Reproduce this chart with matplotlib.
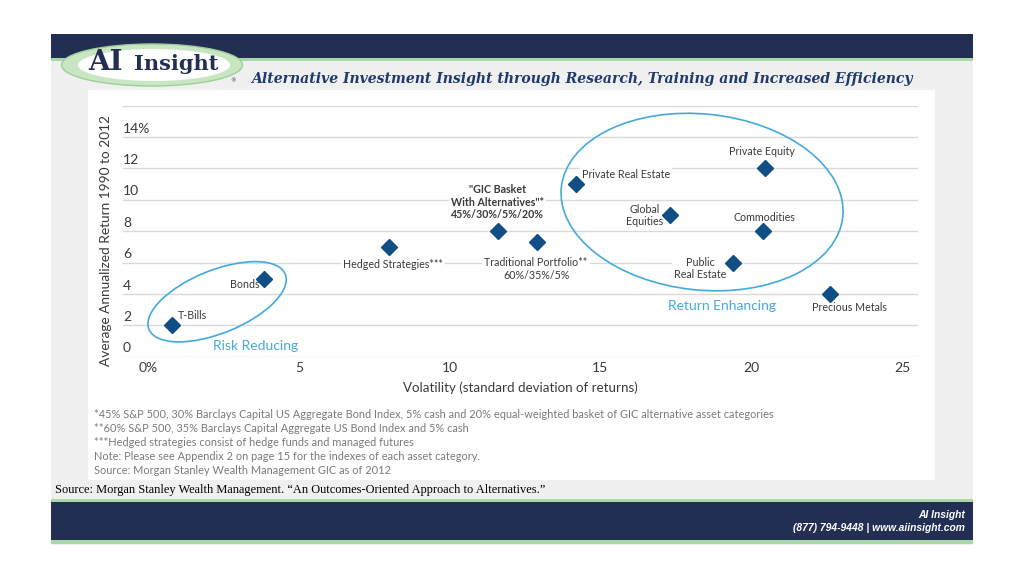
import matplotlib
matplotlib.use('Agg')
import matplotlib.pyplot as plt
from matplotlib.patches import Rectangle, Ellipse
from matplotlib.transforms import ScaledTranslation, blended_transform_factory

# dati
nomi = ['T-Bills', 'Bonds', 'Hedged Strategies***',
        '"GIC Basket\nWith Alternatives"*\n45%/30%/5%/20%',
        'Traditional Portfolio**\n60%/35%/5%', 'Private Real Estate',
        'Global\nEquities', 'Private Equity', 'Commodities',
        'Public\nReal Estate', 'Precious Metals']
volatilita = [0.8, 3.85, 8.0, 11.6, 12.9, 14.2, 17.3, 20.45, 20.4, 19.4, 22.6]
rendimenti = [2.0, 4.95, 7.0, 8.0, 7.3, 11.0, 9.0, 12.0, 8.0, 6.0, 4.0]

x_ticks = [0, 5, 10, 15, 20, 25]
x_labels = ['0%', '5', '10', '15', '20', '25']
y_ticks = [0, 2, 4, 6, 8, 10, 12, 14]
y_labels = ['0', '2', '4', '6', '8', '10', '12', '14%']

note = ['*45% S&P 500, 30% Barclays Capital US Aggregate Bond Index, 5% cash and 20% equal-weighted basket of GIC alternative asset categories',
        '**60% S&P 500, 35% Barclays Capital Aggregate US Bond Index and 5% cash',
        '***Hedged strategies consist of hedge funds and managed futures',
        'Note: Please see Appendix 2 on page 15 for the indexes of each asset category.',
        'Source: Morgan Stanley Wealth Management GIC as of 2012']

# posizione etichette: (dx px, dy px, ha)
offset = [(6, 10, 'left'), (-5, -6, 'right'), (4, -18, 'center'), (0, 29, 'center'),
          (-1, -27, 'center'), (6, 10, 'left'), (-7, 0, 'right'), (-3, 17, 'center'),
          (1, 14, 'center'), (-7, -6, 'right'), (20, -14, 'center')]

navy = '#222f52'
verde = '#a9d8a8'
blu = '#124e86'
azzurro = '#45a9dc'
testo = '#3a3a3a'
font = 'Lato'

fig = plt.figure(figsize=(10.24, 5.75), dpi=100)
fig.patch.set_facecolor('white')

# sfondo della slide in pixel
bg = fig.add_axes([0, 0, 1, 1])
bg.set_xlim(0, 1024)
bg.set_ylim(575, 0)
bg.axis('off')
bg.add_patch(Rectangle((51, 34), 922, 511, fc='#f0f0f0', ec='none'))
bg.add_patch(Rectangle((51, 34), 922, 24, fc=navy, ec='none'))
bg.add_patch(Rectangle((51, 58), 922, 3, fc=verde, ec='none'))
bg.add_patch(Rectangle((88, 90), 847, 390, fc='white', ec='none'))
bg.add_patch(Rectangle((51, 499), 922, 3, fc=verde, ec='none'))
bg.add_patch(Rectangle((51, 502), 922, 38, fc=navy, ec='none'))
bg.add_patch(Rectangle((51, 540), 922, 4, fc=verde, ec='none'))

# logo
bg.add_patch(Ellipse((152, 65), 181, 42, fc='#c9e6c2', ec='#9fcf98', lw=1))
bg.add_patch(Ellipse((154, 65), 152, 32, fc='white', ec='none'))
bg.text(105, 70, 'AI', family='DejaVu Serif', weight='bold', fontsize=20,
        color=navy, ha='center', va='baseline')
bg.text(176, 70, 'Insight', family='DejaVu Serif', weight='bold', fontsize=15,
        color=navy, ha='center', va='baseline')
bg.text(233, 81, '®', fontsize=4, color=navy, ha='center', va='center')
bg.text(251, 79, 'Alternative Investment Insight through Research, Training and Increased Efficiency',
        family='DejaVu Serif', weight='bold', style='italic', fontsize=10.1,
        color='#1f3a6b', ha='left', va='center')

for i, riga in enumerate(note):
    bg.text(94, 414 + 14 * i, riga, family=font, fontsize=7.95, color='#7a7a7a',
            ha='left', va='center')

bg.text(55, 490, 'Source: Morgan Stanley Wealth Management. \u201cAn Outcomes-Oriented Approach to Alternatives.\u201d',
        family='Liberation Serif', fontsize=8.9, color='black', ha='left', va='center')
bg.text(965, 515, 'AI Insight', family='Liberation Sans', weight='bold', style='italic',
        fontsize=7.4, color='white', ha='right', va='center')
bg.text(965, 528, '(877) 794-9448 | www.aiinsight.com', family='Liberation Sans',
        weight='bold', style='italic', fontsize=7.4, color='white', ha='right', va='center')

# grafico
ax = fig.add_axes([123 / 1024, 1 - 356.7 / 575, 795 / 1024, 251.2 / 575])
ax.set_xlim(-0.83, 25.53)
ax.set_ylim(0, 16)
ax.patch.set_alpha(0)
for s in ax.spines.values():
    s.set_visible(False)
for v in range(0, 17, 2):
    ax.axhline(v, color='#d9d9d9', lw=1, zorder=0)

ax.set_xticks(x_ticks)
ax.set_xticklabels(x_labels, family=font, fontsize=10, color=testo)
ax.tick_params(axis='x', length=0, pad=4)
ax.set_yticks([])
tr = blended_transform_factory(ax.transAxes, ax.transData)
for v, lab in zip(y_ticks, y_labels):
    ax.text(0, v + 0.15, lab, transform=tr, family=font, fontsize=10, color=testo,
            ha='left', va='bottom')

ax.set_xlabel('Volatility (standard deviation of returns)', family=font,
              fontsize=9.6, color=testo, labelpad=5)
fig.text(106 / 1024, 1 - 240 / 575, 'Average Annualized Return 1990 to 2012', family=font,
         fontsize=9.8, color=testo, rotation=90, ha='center', va='center')

ax.plot(volatilita, rendimenti, 'D', color=blu, markersize=8.5, zorder=5)

for i, nome in enumerate(nomi):
    dx, dy, ha = offset[i]
    peso = 'bold' if i == 3 else 'normal'
    ax.annotate(nome, (volatilita[i], rendimenti[i]), xytext=(dx * 0.72, dy * 0.72),
                textcoords='offset points', ha=ha, va='center', multialignment='center',
                family=font, fontsize=7.7, weight=peso, color=testo, linespacing=1.15,
                bbox=dict(fc='white', ec='none', pad=1.5), zorder=3)

# ellissi (dimensioni in pixel, centro in coordinate dati)
def ellisse(cx, cy, w, h, ang):
    t = fig.dpi_scale_trans + ScaledTranslation(cx, cy, ax.transData)
    ax.add_patch(Ellipse((0, 0), w / 100, h / 100, angle=ang, transform=t,
                         fc='none', ec=azzurro, lw=1.2, zorder=4))

ellisse(2.29, 3.5, 147, 63, 22)
ellisse(18.37, 9.85, 283, 176, -6)

ax.text(3.55, 0.65, 'Risk Reducing', family=font, fontsize=10, color=azzurro,
        ha='center', va='center')
ax.text(19.03, 3.25, 'Return Enhancing', family=font, fontsize=10, color=azzurro,
        ha='center', va='center')

fig.savefig('out.png', dpi=100)
